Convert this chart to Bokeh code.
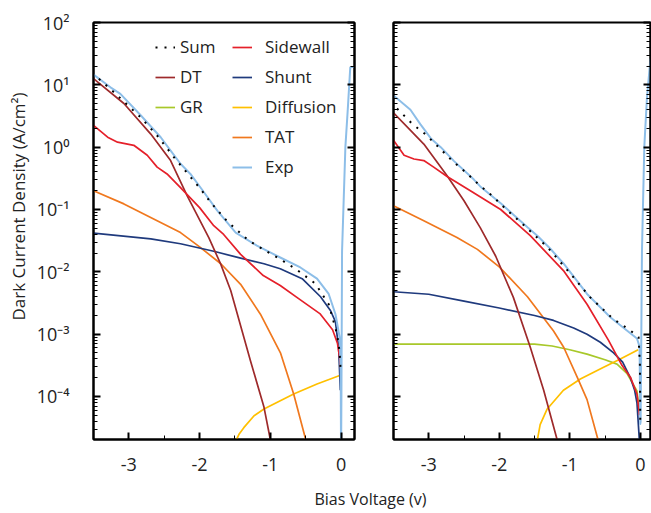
import numpy as np
from bokeh.plotting import figure
from bokeh.models import (Range1d, FixedTicker, LogAxis, CustomJSTickFormatter,
                          Legend, LegendItem, Label)
from bokeh.layouts import row, column
from bokeh.embed import file_html
from bokeh.resources import INLINE

FONT = "Open Sans"
TXT = "#222222"

# ---------------- data (x in V, values as log10 of A/cm^2) ----------------
# left panel
exp_l_x = [-3.5, -3.26, -3.12, -2.83, -2.55, -2.41, -2.27, -2.13, -1.99, -1.75, -1.49, -1.19,
           -0.86, -0.575, -0.34, -0.175, -0.08, -0.02, -0.005, 0.0, 0.005, 0.014, 0.061, 0.094, 0.13, 0.19]
exp_l_y = [1.165, 0.96, 0.855, 0.507, 0.159, -0.055, -0.266, -0.43, -0.643, -1.018, -1.37, -1.58,
           -1.77, -1.93, -2.11, -2.355, -2.676, -3.05, -3.6, -5.0, -4.0, -1.67, 0.0, 0.59, 1.28, 1.29]
sum_l_x = [-3.424, -3.21, -2.835, -2.6, -2.364, -1.987, -1.846, -1.61, -1.305, -1.07, -0.857,
           -0.645, -0.363, -0.175, -0.056, -0.02, -0.005]
sum_l_y = [1.096, 0.88, 0.48, 0.186, -0.16, -0.67, -0.884, -1.19, -1.5, -1.66, -1.80,
           -1.95, -2.19, -2.52, -3.0, -3.29, -3.6]
dt_l_x = [-3.5, -3.07, -2.69, -2.41, -2.175, -1.87, -1.7, -1.56, -1.28, -1.09, -1.0]
dt_l_y = [1.10, 0.70, 0.21, -0.215, -0.78, -1.45, -1.88, -2.3, -3.43, -4.17, -4.69]
sw_l_x = [-3.5, -3.3, -3.16, -2.93, -2.74, -2.6, -2.46, -2.27, -2.0, -1.8, -1.66, -1.42, -1.1,
          -0.86, -0.6, -0.3, -0.12, -0.05, -0.02, -0.005]
sw_l_y = [0.35, 0.16, 0.08, 0.03, -0.13, -0.32, -0.43, -0.65, -0.97, -1.26, -1.40, -1.72, -2.06,
          -2.22, -2.43, -2.67, -2.93, -3.15, -3.38, -3.55]
sh_l_x = [-3.5, -2.69, -2.27, -1.8, -1.42, -1.09, -0.86, -0.55, -0.29, -0.15, -0.08, -0.034, -0.01]
sh_l_y = [-1.38, -1.47, -1.55, -1.67, -1.78, -1.87, -1.95, -2.11, -2.40, -2.62, -2.80, -3.22, -3.9]
tat_l_x = [-3.5, -3.07, -2.6, -2.27, -2.0, -1.7, -1.42, -1.14, -0.857, -0.67, -0.5]
tat_l_y = [-0.70, -0.91, -1.18, -1.37, -1.6, -1.87, -2.2, -2.68, -3.3, -3.96, -4.69]
dif_l_x = [-1.49, -1.44, -1.375, -1.23, -1.09, -0.67, -0.34, -0.01]
dif_l_y = [-4.72, -4.6, -4.5, -4.31, -4.2, -3.96, -3.8, -3.66]
gr_l_x = [np.nan]   # GR lies below the visible range in this panel
gr_l_y = [np.nan]

# right panel
exp_r_x = [-3.5, -3.26, -3.12, -2.97, -2.83, -2.645, -2.36, -2.27, -1.98, -1.6, -1.46, -1.275,
           -1.086, -0.755, -0.425, -0.19, -0.047, -0.01, 0.0, 0.005, 0.024, 0.057, 0.095, 0.145]
exp_r_y = [0.83, 0.6, 0.37, 0.14, 0.0, -0.22, -0.52, -0.63, -0.9, -1.285, -1.42, -1.63,
           -1.87, -2.355, -2.73, -2.94, -3.07, -3.2, -4.44, -4.4, -1.66, 0.0, 0.8, 1.42]
sum_r_x = [-3.45, -3.23, -3.05, -2.86, -2.67, -2.48, -2.29, -2.1, -1.91, -1.72, -1.32, -0.99,
           -0.71, -0.38, -0.14, -0.024, -0.005, 0.0]
sum_r_y = [0.62, 0.37, 0.21, 0.0, -0.215, -0.4, -0.6, -0.78, -0.99, -1.18, -1.6, -2.03,
           -2.41, -2.76, -2.94, -3.05, -3.5, -4.4]
dt_r_x = [-3.5, -3.07, -2.74, -2.5, -2.27, -2.05, -1.8, -1.56, -1.37, -1.18]
dt_r_y = [0.55, 0.05, -0.46, -0.86, -1.29, -1.75, -2.41, -3.21, -3.9, -4.69]
sw_r_x = [-3.5, -3.35, -3.21, -3.07, -2.93, -2.74, -2.41, -1.98, -1.56, -1.09, -0.755, -0.45,
          -0.26, -0.14, -0.047, -0.01]
sw_r_y = [0.11, -0.13, -0.19, -0.215, -0.32, -0.47, -0.70, -1.0, -1.42, -1.98, -2.52, -3.1,
          -3.5, -3.69, -3.96, -4.3]
sh_r_x = [-3.5, -3.0, -2.5, -2.0, -1.5, -1.23, -0.945, -0.755, -0.567, -0.378, -0.25, -0.14,
          -0.08, -0.047, -0.014]
sh_r_y = [-2.32, -2.36, -2.47, -2.58, -2.7, -2.78, -2.9, -3.0, -3.13, -3.3, -3.45, -3.7,
          -3.9, -4.1, -4.68]
gr_r_x = [-3.5, -1.5, -1.25, -1.0, -0.755, -0.5, -0.33, -0.19, -0.047, -0.014]
gr_r_y = [-3.16, -3.16, -3.19, -3.25, -3.32, -3.41, -3.48, -3.63, -3.91, -4.23]
dif_r_x = [-1.46, -1.42, -1.32, -1.09, -0.85, -0.52, -0.283, -0.03]
dif_r_y = [-4.7, -4.45, -4.2, -3.9, -3.72, -3.53, -3.4, -3.25]
tat_r_x = [-3.5, -3.07, -2.6, -2.31, -2.0, -1.6, -1.23, -1.086, -0.89, -0.755, -0.6]
tat_r_y = [-0.94, -1.18, -1.45, -1.64, -1.92, -2.4, -2.95, -3.21, -3.7, -4.05, -4.69]

y_major = [1e-4, 1e-3, 1e-2, 1e-1, 1e0, 1e1, 1e2]
x_major = [-3, -2, -1, 0]
x_minor = [-2.5, -1.5, -0.5]

COL = {
    "Sum": "#000000", "DT": "#9E2A2B", "GR": "#A8C82A", "Sidewall": "#E5202A",
    "Shunt": "#1F3A7D", "Diffusion": "#FFC000", "TAT": "#F0781E", "Exp": "#8DBEE8",
}

YMIN, YMAX = 10 ** -4.69, 100.0
y_minor = [k * 10.0 ** d for d in range(-5, 2) for k in range(2, 10) if YMIN < k * 10.0 ** d < YMAX]

SUP_CODE = """
const sup = {"-": "\u207b", "0": "\u2070", "1": "\u00b9", "2": "\u00b2", "3": "\u00b3", "4": "\u2074", "5": "\u2075"};
const e = Math.round(Math.log10(tick));
return "10" + String(e).split("").map(c => sup[c]).join("");
"""
PLAIN_CODE = "return String(Math.round(tick));"
EMPTY_CODE = "return ' ';"

# layout (pixels)
YLAB_W = 30          # strip holding the y-axis title
TOP, FH, BOT = 22, 417, 40
XLAB_H = 513 - (TOP + FH + BOT)


def L(v):
    return list(np.power(10.0, np.array(v, dtype=float)))


def style_axis(ax, ticker, labels):
    ax.ticker = ticker
    ax.axis_line_color = "black"
    ax.axis_line_width = 2
    ax.major_tick_in = 7
    ax.major_tick_out = 0
    ax.minor_tick_in = 4
    ax.minor_tick_out = 0
    ax.major_tick_line_width = 2
    ax.minor_tick_line_width = 1
    ax.major_tick_line_color = "black"
    ax.minor_tick_line_color = "black"
    ax.major_label_text_font = FONT
    ax.major_label_text_font_size = "18px"
    ax.major_label_text_color = TXT
    if not labels:
        ax.formatter = CustomJSTickFormatter(code=EMPTY_CODE)
        ax.major_label_text_font_size = "4px"
        ax.major_label_standoff = 0


def make_panel(xmax, fw, left_border, right_border, ylabels):
    p = figure(x_range=Range1d(-3.5, xmax), y_range=Range1d(YMIN, YMAX), y_axis_type="log",
               frame_width=fw, frame_height=FH, output_backend="svg", toolbar_location=None,
               min_border_left=left_border, min_border_right=right_border,
               min_border_top=TOP, min_border_bottom=BOT)
    p.xgrid.visible = False
    p.ygrid.visible = False
    p.outline_line_color = "black"
    p.outline_line_width = 2
    p.outline_line_alpha = 1.0
    p.background_fill_color = "white"
    p.border_fill_color = "white"
    xt = FixedTicker(ticks=x_major, minor_ticks=x_minor)
    yt = FixedTicker(ticks=y_major, minor_ticks=y_minor)
    style_axis(p.xaxis[0], xt, True)
    p.xaxis[0].formatter = CustomJSTickFormatter(code=PLAIN_CODE)
    p.xaxis[0].major_label_standoff = 18
    style_axis(p.yaxis[0], yt, ylabels)
    if ylabels:
        p.yaxis[0].formatter = CustomJSTickFormatter(code=SUP_CODE)
        p.yaxis[0].major_label_standoff = 24
    ra = LogAxis()
    style_axis(ra, FixedTicker(ticks=y_major, minor_ticks=y_minor), False)
    p.add_layout(ra, "right")
    return p


def draw(p, xs, ys, name, width=1.7, dash="solid"):
    return p.line(xs, L(ys), line_color=COL[name], line_width=width, line_dash=dash,
                  line_join="round")


def text_strip(w, h):
    s = figure(x_range=Range1d(0, w), y_range=Range1d(0, h), frame_width=w, frame_height=h,
               output_backend="svg", toolbar_location=None, min_border=0,
               x_axis_location=None, y_axis_location=None)
    s.xgrid.visible = False
    s.ygrid.visible = False
    s.outline_line_color = None
    return s


# ---------------- left panel ----------------
p1 = make_panel(0.19, 261, 93 - YLAB_W, 19, True)
r_gr_l = draw(p1, gr_l_x, gr_l_y, "GR")
r_dif_l = draw(p1, dif_l_x, dif_l_y, "Diffusion")
r_tat_l = draw(p1, tat_l_x, tat_l_y, "TAT")
r_sh_l = draw(p1, sh_l_x, sh_l_y, "Shunt")
r_dt_l = draw(p1, dt_l_x, dt_l_y, "DT")
r_sw_l = draw(p1, sw_l_x, sw_l_y, "Sidewall")
r_exp_l = draw(p1, exp_l_x, exp_l_y, "Exp", width=2)
r_sum_l = draw(p1, sum_l_x, sum_l_y, "Sum", width=2, dash="2 7")

leg_common = dict(orientation="vertical", glyph_width=20, glyph_height=20, label_height=20,
                  spacing=7, padding=0, margin=0, border_line_color=None,
                  background_fill_alpha=0, label_text_font=FONT, label_text_font_size="17px",
                  label_text_color=TXT)
leg1 = Legend(items=[LegendItem(label="Sum", renderers=[r_sum_l]),
                     LegendItem(label="DT", renderers=[r_dt_l]),
                     LegendItem(label="GR", renderers=[r_gr_l])],
              location=(62, 321), label_standoff=5, **leg_common)
leg2 = Legend(items=[LegendItem(label="Sidewall", renderers=[r_sw_l]),
                     LegendItem(label="Shunt", renderers=[r_sh_l]),
                     LegendItem(label="Diffusion", renderers=[r_dif_l]),
                     LegendItem(label="TAT", renderers=[r_tat_l]),
                     LegendItem(label="Exp", renderers=[r_exp_l])],
              location=(139, 261), label_standoff=13, **leg_common)
p1.add_layout(leg1)
p1.add_layout(leg2)

# ---------------- right panel ----------------
p2 = make_panel(0.145, 257, 20, 1, False)
draw(p2, gr_r_x, gr_r_y, "GR")
draw(p2, dif_r_x, dif_r_y, "Diffusion")
draw(p2, tat_r_x, tat_r_y, "TAT")
draw(p2, sh_r_x, sh_r_y, "Shunt")
draw(p2, dt_r_x, dt_r_y, "DT")
draw(p2, sw_r_x, sw_r_y, "Sidewall")
draw(p2, exp_r_x, exp_r_y, "Exp", width=2)
draw(p2, sum_r_x, sum_r_y, "Sum", width=2, dash="2 7")

# ---------------- axis titles ----------------
ROW_H = TOP + FH + BOT
ylab = text_strip(YLAB_W, ROW_H)
ylab.add_layout(Label(x=18, y=ROW_H - 184, text="Dark Current Density (A/cm²)",
                      angle=np.pi / 2, text_align="center", text_baseline="middle",
                      text_font=FONT, text_font_size="17px", text_color=TXT))

xlab = text_strip(651, XLAB_H)
xlab.add_layout(Label(x=370, y=XLAB_H - 19, text="Bias Voltage (v)", text_align="center",
                      text_baseline="middle", text_font=FONT, text_font_size="16px",
                      text_color=TXT))

layout = column(row(ylab, p1, p2, spacing=0), xlab, spacing=0)
open("out.html", "w").write(file_html(layout, INLINE))
